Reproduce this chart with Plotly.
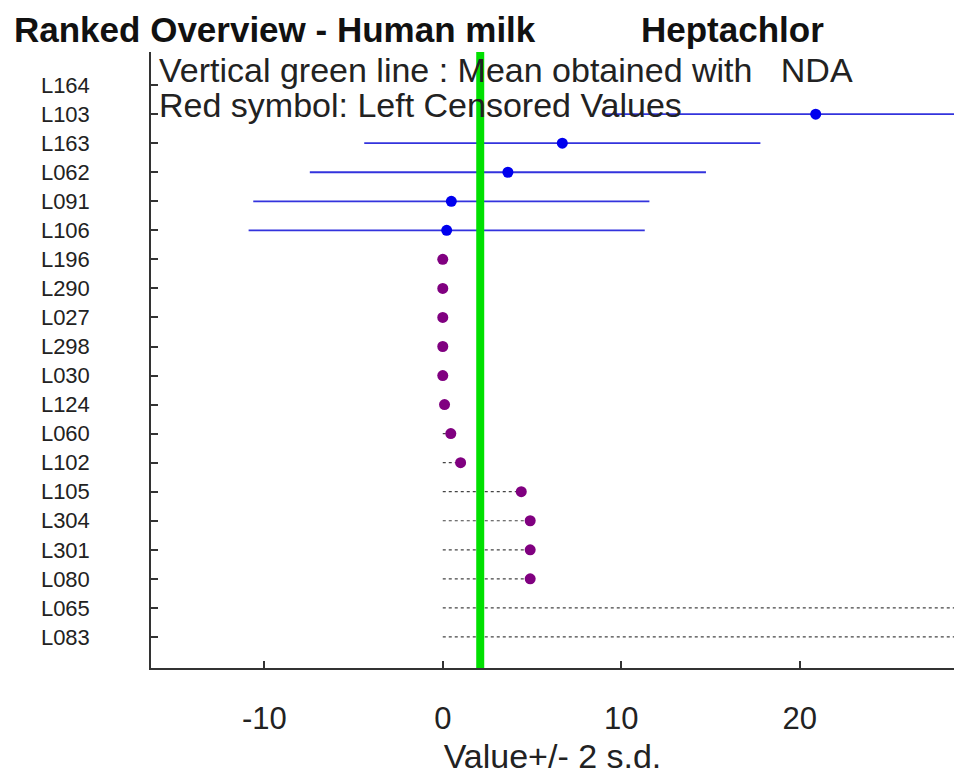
import plotly.graph_objects as go

# Row order (top to bottom)
rows = ["L164", "L103", "L163", "L062", "L091", "L106", "L196", "L290", "L027",
        "L298", "L030", "L124", "L060", "L102", "L105", "L304", "L301", "L080",
        "L065", "L083"]

# Quantified results: value and 2 s.d.
labs_q = ["L103", "L163", "L062", "L091", "L106"]
values_q = [20.9, 6.7, 3.65, 0.48, 0.22]
twosd_q = [11.8, 11.1, 11.1, 11.1, 11.1]

# Left censored results (values)
labs_c = ["L196", "L290", "L027", "L298", "L030", "L124", "L060", "L102",
          "L105", "L304", "L301", "L080", "L065", "L083"]
values_c = [0.0, 0.0, 0.0, 0.0, 0.0, 0.1, 0.45, 1.0, 4.4, 4.9, 4.9, 4.9, 32.0, 32.0]

mean_nda = 2.1
x_ticks = [-10, 0, 10, 20]

ypos = {r: i for i, r in enumerate(rows)}

fig = go.Figure()

# dotted lines from 0 to censored value
for lab, v in zip(labs_c, values_c):
    fig.add_trace(go.Scatter(
        x=[0, v], y=[ypos[lab], ypos[lab]], mode="lines",
        line=dict(color="#444444", width=1.2, dash="dot"),
        hoverinfo="skip", showlegend=False))

fig.add_trace(go.Scatter(
    x=values_c, y=[ypos[l] for l in labs_c], mode="markers",
    marker=dict(color="#800080", size=11),
    showlegend=False))

fig.add_trace(go.Scatter(
    x=values_q, y=[ypos[l] for l in labs_q], mode="markers",
    marker=dict(color="#0000ee", size=11),
    error_x=dict(type="data", array=twosd_q, symmetric=True,
                 color="#3333dd", thickness=1.8, width=0),
    showlegend=False))

fig.add_shape(type="line", xref="x", yref="paper", x0=mean_nda, x1=mean_nda,
              y0=0, y1=1, line=dict(color="#00e000", width=8), layer="above")

font_fam = "Liberation Sans, Arial, sans-serif"

fig.add_annotation(text="<b>Ranked Overview - Human milk</b>", xref="paper", yref="paper",
                   x=(12 - 151) / 803, y=1 + (52 - 30) / 616, xanchor="left", yanchor="middle",
                   showarrow=False, font=dict(size=35, color="#111111", family=font_fam))
fig.add_annotation(text="<b>Heptachlor</b>", xref="paper", yref="paper",
                   x=(639 - 151) / 803, y=1 + (52 - 30) / 616, xanchor="left", yanchor="middle",
                   showarrow=False, font=dict(size=35, color="#111111", family=font_fam))
fig.add_annotation(text="Vertical green line : Mean obtained with   NDA", xref="paper", yref="paper",
                   x=(157 - 151) / 803, y=1 - (70 - 52) / 616, xanchor="left", yanchor="middle",
                   showarrow=False, font=dict(size=34, color="#222222", family=font_fam))
fig.add_annotation(text="Red symbol: Left Censored Values", xref="paper", yref="paper",
                   x=(157 - 151) / 803, y=1 - (105 - 52) / 616, xanchor="left", yanchor="middle",
                   showarrow=False, font=dict(size=34, color="#222222", family=font_fam))

fig.update_layout(
    width=954, height=775,
    margin=dict(l=151, r=0, t=52, b=107),
    paper_bgcolor="white", plot_bgcolor="white",
    font=dict(family=font_fam, color="#222222"),
    xaxis=dict(range=[-16.35, 28.65], tickvals=x_ticks, ticktext=[str(t) for t in x_ticks],
               showgrid=False, zeroline=False, showline=True, linecolor="#333333", linewidth=1.5,
               ticks="inside", ticklen=7, tickcolor="#333333", tickwidth=1.5,
               tickfont=dict(size=31, color="#222222"), ticklabelstandoff=22, automargin=False,
               title=dict(text="Value+/- 2 s.d.", font=dict(size=34, color="#222222"), standoff=19)),
    yaxis=dict(range=[20.07, -1.14], tickvals=list(range(len(rows))), ticktext=rows,
               showgrid=False, zeroline=False, showline=True, linecolor="#333333", linewidth=1.5,
               ticks="inside", ticklen=7, tickcolor="#333333", tickwidth=1.5, automargin=False,
               tickfont=dict(size=22, color="#222222"), ticklabelstandoff=55),
)

fig.write_html("out.html", config={"displayModeBar": False},
               post_script="document.body.style.margin='0';document.body.style.overflow='hidden';")
